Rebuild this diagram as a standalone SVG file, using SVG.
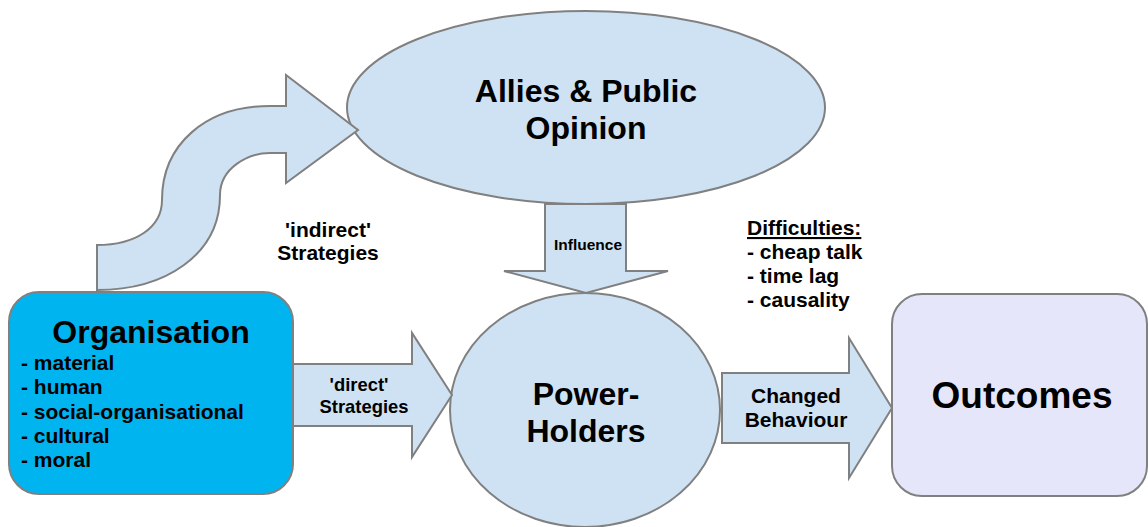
<svg xmlns="http://www.w3.org/2000/svg" width="1148" height="527" viewBox="0 0 1148 527">
<style>
.sh{fill:#cfe2f3;stroke:#808080;stroke-width:2;stroke-linejoin:miter}
.t{font-family:"Liberation Sans",Arial,sans-serif;font-weight:bold;fill:#000}
.c{text-anchor:middle}
</style>
<rect width="1148" height="527" fill="#ffffff"/>
<g id="nodes">
<g id="allies">
<ellipse class="sh" cx="586" cy="107.5" rx="239" ry="96.5"/>
<text class="t c" x="586" y="102" font-size="32">Allies &amp; Public</text>
<text class="t c" x="586" y="139" font-size="32">Opinion</text>
</g>
<g id="powerholders">
<ellipse class="sh" cx="585" cy="410" rx="135" ry="117"/>
<text class="t c" x="586" y="405" font-size="32">Power-</text>
<text class="t c" x="586" y="442" font-size="32">Holders</text>
</g>
<g id="organisation">
<rect x="9" y="292" width="284" height="202" rx="30" ry="30" fill="#00b4f0" stroke="#808080" stroke-width="2"/>
<text class="t c" x="151" y="343" font-size="32">Organisation</text>
<text class="t" x="21" font-size="21"><tspan x="21" y="370">- material</tspan><tspan x="21" y="394">- human</tspan><tspan x="21" y="418.5">- social-organisational</tspan><tspan x="21" y="443">- cultural</tspan><tspan x="21" y="467">- moral</tspan></text>
</g>
<g id="outcomes">
<rect x="892" y="294" width="255" height="202" rx="30" ry="30" fill="#e6e6fa" stroke="#808080" stroke-width="2"/>
<text class="t c" x="1022" y="408" font-size="37">Outcomes</text>
</g>
<g id="difficulties">
<text class="t" x="747" y="235" font-size="21" text-decoration="underline">Difficulties:</text>
<text class="t" x="747" font-size="21"><tspan x="747" y="259">- cheap talk</tspan><tspan x="747" y="283">- time lag</tspan><tspan x="747" y="307">- causality</tspan></text>
</g>
</g>
<g id="connectors">
<g id="indirect">
<path class="sh" d="M97,290 L97,245 C135,245 162,228 162,200 C162,145 205,106 270,106 L286,106 L286,75 L358,130 L286,183 L286,153 L270,153 C248,153 220,168 220,195 C220,255 165,290 97,290 Z"/>
<text class="t c" x="328" y="237" font-size="21">'indirect'</text>
<text class="t c" x="328" y="260" font-size="21">Strategies</text>
</g>
<g id="direct">
<path class="sh" d="M293,364 L412,364 L412,333 L452,395 L412,457 L412,426 L293,426 Z"/>
<text class="t c" x="359" y="391" font-size="18.4">'direct'</text>
<text class="t c" x="364" y="413" font-size="18.4">Strategies</text>
</g>
<g id="influence">
<path class="sh" d="M545,204 L545,271 L504,271 L586,293 L668,271 L626,271 L626,204 Z"/>
<text class="t c" x="588" y="250" font-size="15.5">Influence</text>
</g>
<g id="changed">
<path class="sh" d="M722,373 L849,373 L849,338 L892,408 L849,478 L849,443 L722,443 Z"/>
<text class="t c" x="796" y="403" font-size="21">Changed</text>
<text class="t c" x="796" y="427" font-size="21">Behaviour</text>
</g>
</g>
</svg>
